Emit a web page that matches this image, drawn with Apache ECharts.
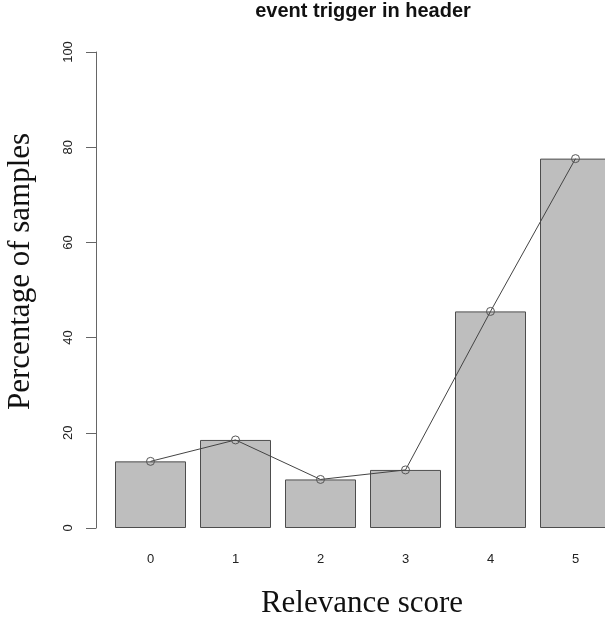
<!DOCTYPE html>
<html>
<head>
<meta charset="utf-8">
<script src="https://cdn.jsdelivr.net/npm/echarts@6/dist/echarts.min.js"></script>
<style>html,body{margin:0;padding:0;background:#fff}#chart{width:605px;height:620px}</style>
</head>
<body>
<div id="chart"></div>
<script>
var categories = ['0', '1', '2', '3', '4', '5'];
var percentages = [14.0, 18.5, 10.2, 12.2, 45.5, 77.6];
var yTicks = [0, 20, 40, 60, 80, 100];
var chartTitle = 'event trigger in header';
var xTitle = 'Relevance score';
var yTitle = 'Percentage of samples';

var chart = echarts.init(document.getElementById('chart'), null, {renderer: 'canvas'});
chart.setOption({
  animation: false,
  backgroundColor: '#ffffff',
  grid: {left: 108, width: 510, top: 52, height: 476, outerBoundsMode: 'none', containLabel: false},
  xAxis: {
    type: 'category',
    data: categories,
    axisLine: {show: false},
    axisTick: {show: false},
    axisLabel: {margin: 25, fontSize: 13, color: '#222', fontFamily: 'Liberation Sans'}
  },
  yAxis: {
    type: 'value',
    min: yTicks[0],
    max: yTicks[yTicks.length - 1],
    interval: 20,
    offset: 12,
    splitLine: {show: false},
    axisLine: {show: true, lineStyle: {color: '#666', width: 1}},
    axisTick: {show: true, length: 10, lineStyle: {color: '#666', width: 1}},
    axisLabel: {rotate: 90, margin: 21, fontSize: 13, color: '#222', fontFamily: 'Liberation Sans'}
  },
  graphic: [
    {type: 'text', x: 363, y: 11.5, style: {text: chartTitle, font: 'bold 20px "Liberation Sans"', fill: '#111', textAlign: 'center', textVerticalAlign: 'middle'}},
    {type: 'text', x: 362, y: 604, style: {text: xTitle, font: '31px "Liberation Serif"', fill: '#111', textAlign: 'center', textVerticalAlign: 'middle'}},
    {type: 'text', x: 21, y: 271.5, rotation: Math.PI / 2, style: {text: yTitle, font: '31px "Liberation Serif"', fill: '#111', textAlign: 'center', textVerticalAlign: 'middle'}}
  ],
  series: [
    {
      type: 'bar',
      data: percentages,
      barWidth: 71,
      itemStyle: {color: '#bebebe', borderColor: '#4d4d4d', borderWidth: 1}
    },
    {
      type: 'line',
      data: percentages,
      symbol: 'circle',
      symbolSize: 8,
      lineStyle: {color: '#444', width: 1},
      itemStyle: {color: 'rgba(0,0,0,0)', borderColor: '#555', borderWidth: 1}
    }
  ]
});
</script>
</body>
</html>
